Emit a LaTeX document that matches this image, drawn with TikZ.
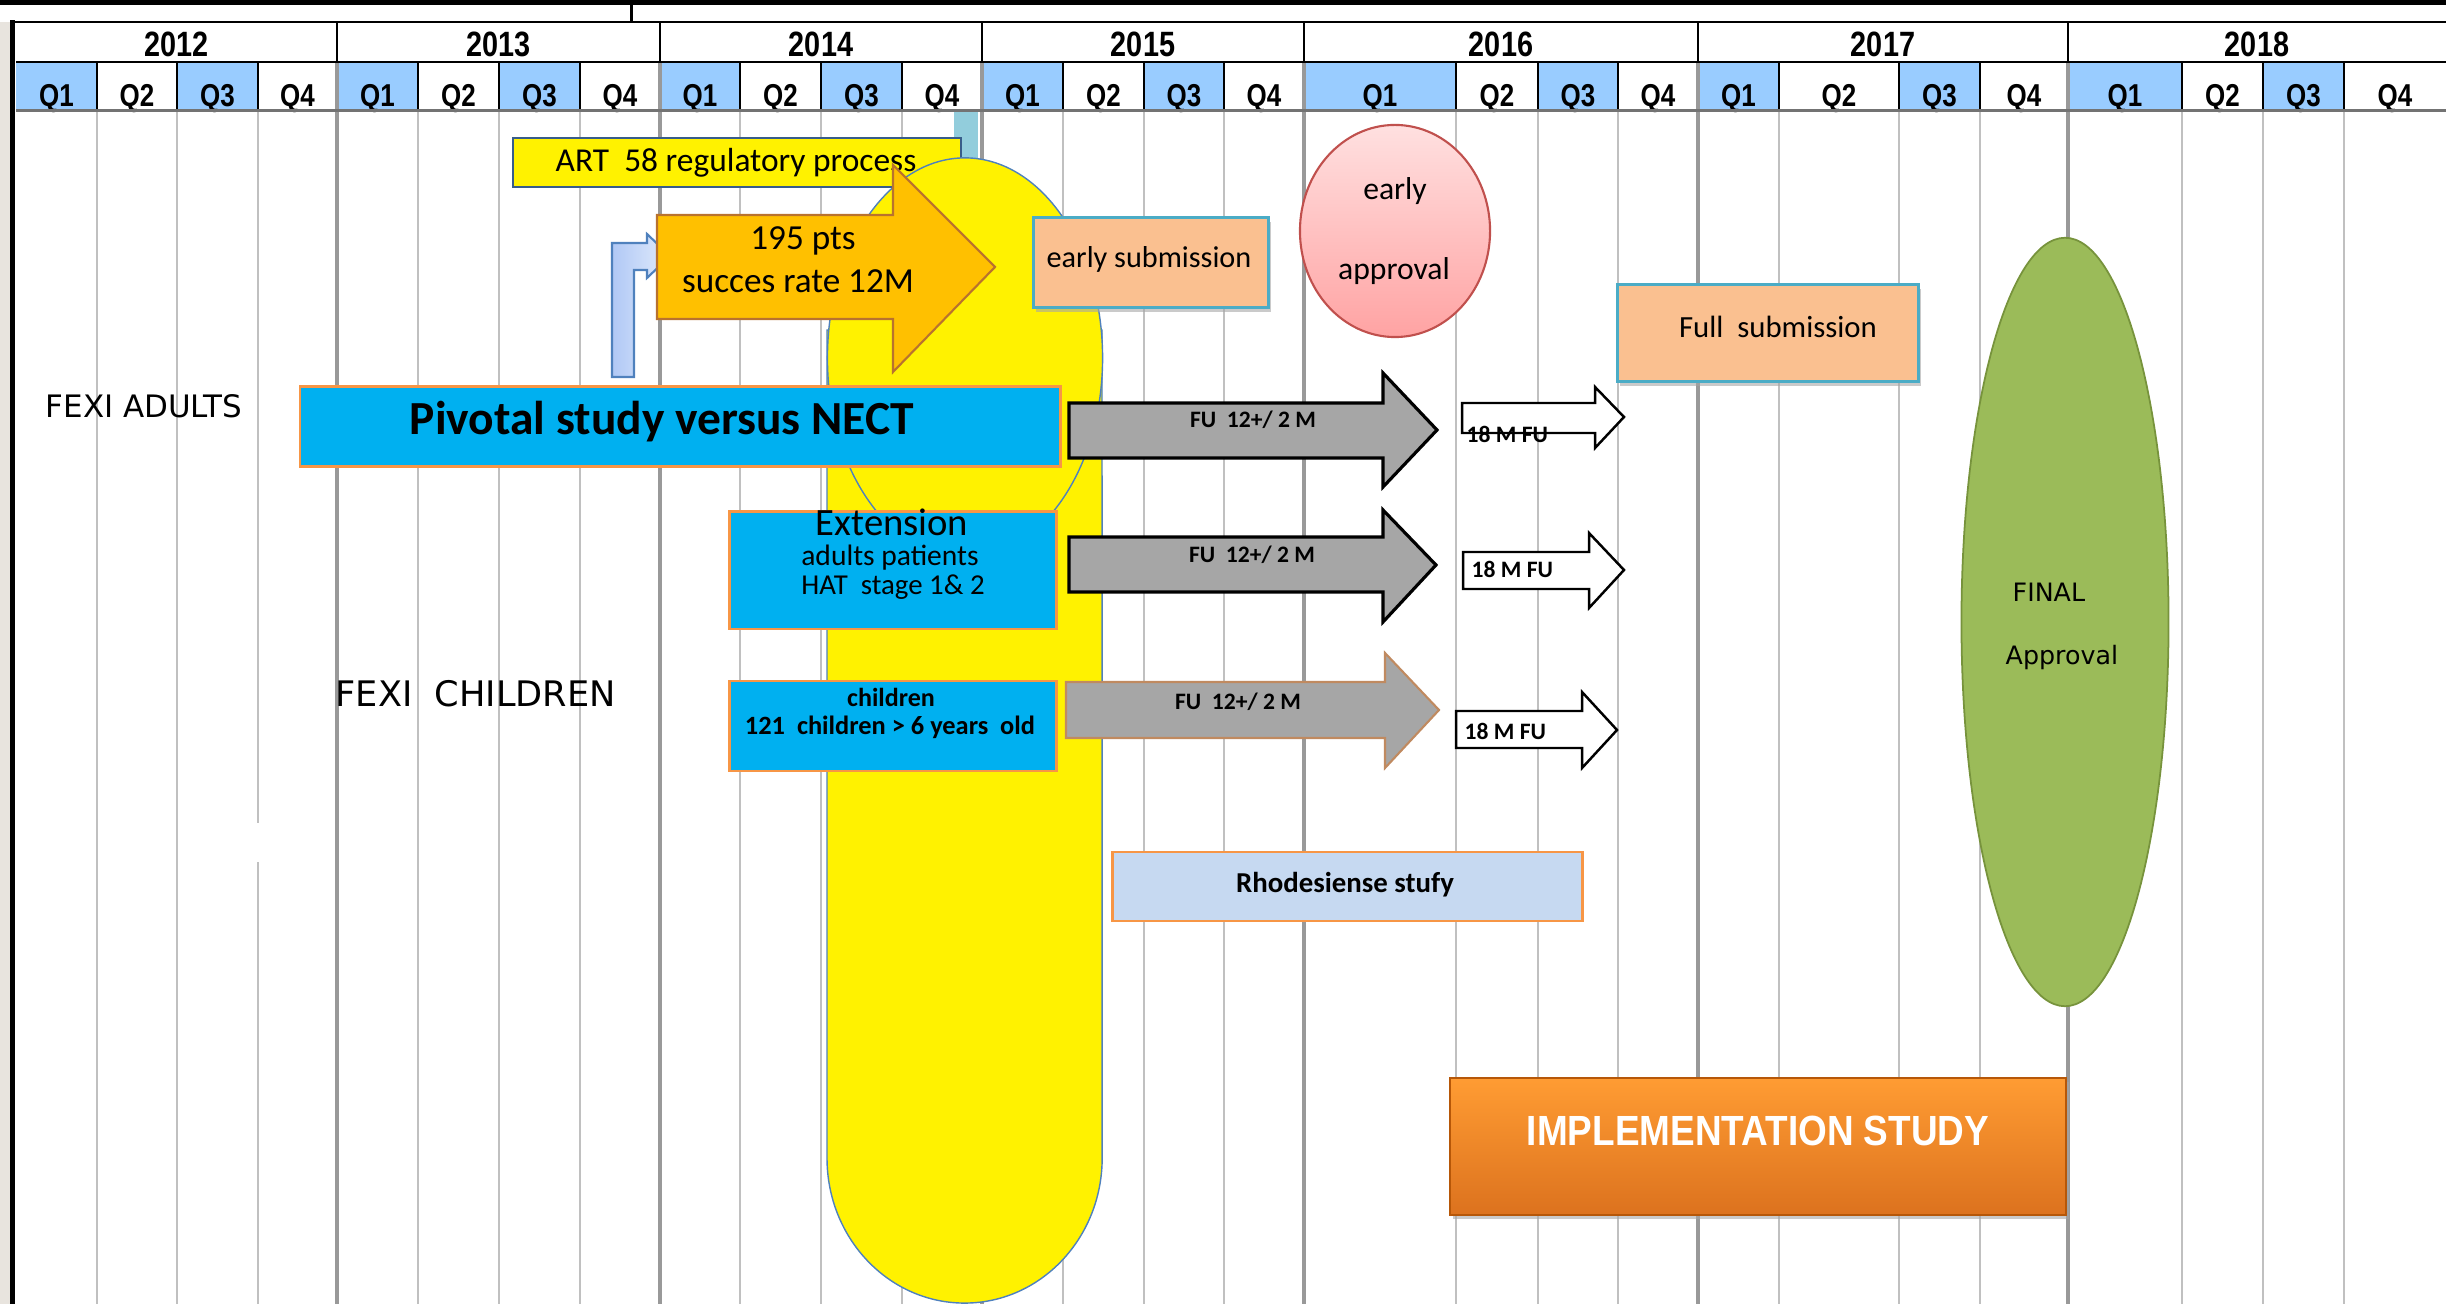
\documentclass[tikz,border=0pt]{standalone}
\usepackage{fontspec}
\setmainfont{Carlito}
\newfontfamily\hdrfont[FakeStretch=0.82]{Liberation Sans}
\newfontfamily\implfont[FakeStretch=0.875]{Liberation Sans}
\newfontfamily\tahfont{DejaVu Sans}
\usepackage{tikz}
\usetikzlibrary{positioning,fit,shapes.geometric,shadows}
\definecolor{QBlue}{HTML}{99CCFF}
\definecolor{CellGray}{HTML}{999999}
\definecolor{GridGray}{HTML}{C0C0C0}
\definecolor{Beige}{HTML}{E8E4DE}
\definecolor{StudyBlue}{HTML}{00B0F0}
\definecolor{StudyEdge}{HTML}{F79646}
\definecolor{OvalEdge}{HTML}{4F81BD}
\definecolor{ArtEdge}{HTML}{385D8A}
\definecolor{BarTeal}{HTML}{92CDDC}
\definecolor{Amber}{HTML}{FFC000}
\definecolor{AmberEdge}{HTML}{B9722E}
\definecolor{FuGray}{HTML}{A6A6A6}
\definecolor{FuEdge}{HTML}{C08A60}
\definecolor{Peach}{HTML}{FAC090}
\definecolor{PeachEdge}{HTML}{4BACC6}
\definecolor{PinkTop}{HTML}{FFE0E0}
\definecolor{PinkBot}{HTML}{FFA3A3}
\definecolor{PinkEdge}{HTML}{C0504D}
\definecolor{Olive}{HTML}{9BBB59}
\definecolor{OliveEdge}{HTML}{77933C}
\definecolor{PaleBlue}{HTML}{C6D9F1}
\definecolor{ElbowL}{HTML}{B0C8F5}
\definecolor{ElbowR}{HTML}{E2ECFC}
\definecolor{ImplTop}{HTML}{FF9C33}
\definecolor{ImplBot}{HTML}{DC721E}
\definecolor{ImplEdge}{HTML}{B65708}
\newcommand{\fatarrow}[9]{\draw[#1] (#2,#3) -- (#5,#3) -- (#5,#6) -- (#8,#9) -- (#5,#7) -- (#5,#4) -- (#2,#4) -- cycle;}

\begin{document}
\begin{tikzpicture}[x=0.01cm,y=-0.01cm,
lbl/.style={inner sep=0pt,anchor=base},
qlab/.style={lbl,font=\hdrfont\bfseries\fontsize{9}{10}\selectfont},
yrlab/.style={lbl,font=\hdrfont\bfseries\fontsize{10}{11}\selectfont},
gridq/.style={GridGray,line width=0.55pt},
gridy/.style={CellGray,line width=1.1pt},
dshadow/.style={drop shadow={shadow xshift=0.8pt,shadow yshift=-1.2pt,fill=black!35,opacity=.6}},
study/.style={fill=StudyBlue,draw=StudyEdge,line width=0.85pt,inner sep=0pt},
peach/.style={fill=Peach,draw=PeachEdge,line width=0.85pt,inner sep=0pt,dshadow},
yel/.style={fill=yellow,draw=OvalEdge,line width=0.4pt},
amber/.style={fill=Amber,draw=AmberEdge,line width=0.6pt},
fugray/.style={fill=FuGray,draw=black,line width=0.9pt},
fuwhite/.style={fill=white,draw=black,line width=0.7pt},
futxt/.style={lbl,font=\bfseries\fontsize{6.7}{8}\selectfont}]
\useasboundingbox (0,0) rectangle (2446,1304);
\fill[Beige] (0,22) rectangle (10,1304);
\foreach \xa/\xb/\q/\c in {16/97/Q1/QBlue,97/177/Q2/white,177/258/Q3/QBlue,258/337/Q4/white,
337/418/Q1/QBlue,418/499/Q2/white,499/580/Q3/QBlue,580/660/Q4/white,
660/740/Q1/QBlue,740/821/Q2/white,821/902/Q3/QBlue,902/982/Q4/white,
982/1063/Q1/QBlue,1063/1144/Q2/white,1144/1224/Q3/QBlue,1224/1304/Q4/white,
1304/1456/Q1/QBlue,1456/1538/Q2/white,1538/1618/Q3/QBlue,1618/1698/Q4/white,
1698/1779/Q1/QBlue,1779/1899/Q2/white,1899/1980/Q3/QBlue,1980/2068/Q4/white,
2068/2182/Q1/QBlue,2182/2263/Q2/white,2263/2344/Q3/QBlue,2344/2446/Q4/white}{
  \fill[\c] (\xa,62) rectangle (\xb,110);
  \node[qlab] (q\xa) at ({(\xa+\xb)/2},107) {\q};
}
\foreach \xa/\xb/\yr in {16/337/2012,337/660/2013,660/982/2014,982/1304/2015,1304/1698/2016,1698/2068/2017,2068/2446/2018}
  \node[yrlab] (y\yr) at ({(\xa+\xb)/2},57) {\yr};
\foreach \x in {97,177,258,418,499,580,740,821,902,1063,1144,1224,1456,1538,1618,1779,1899,1980,2182,2263,2344}{
  \draw[line width=0.45pt] (\x,62) -- (\x,110);
  \draw[gridq] (\x,112) -- (\x,1304);
}
\fill[white] (250,823) rectangle (266,862);
\foreach \x in {337,660,982,1304,1698,2068}{
  \draw[line width=0.6pt] (\x,22) -- (\x,62);
  \draw[gridy] (\x,62) -- (\x,1304);
}
\fill (0,0) rectangle (2446,5);
\draw[line width=0.85pt] (631,5) -- (631,22);
\draw[line width=0.7pt] (10,22) -- (2446,22);
\draw[line width=0.6pt] (16,62) -- (2446,62);
\draw[black!55,line width=0.85pt] (16,111) -- (2446,111);
\fill (10,20) rectangle (15,1304);

\fill[BarTeal] (954,112) rectangle (978,175);
\node[fill=yellow,draw=ArtEdge,line width=0.7pt,inner sep=0pt,fit={(513,138) (961,187)}] (art) {};
\node[lbl,font=\fontsize{9.5}{11}\selectfont] (arttxt) at (736,172) {ART~ 58 regulatory process};

\filldraw[yel] (827,330) -- (827,1158) arc[start angle=180,end angle=360,x radius=1.375cm,y radius=1.45cm] -- (1102,330) -- cycle;
\filldraw[yel] (965,358) ellipse [x radius=1.375cm,y radius=2cm];

\draw[draw=OvalEdge,line width=0.6pt,left color=ElbowL,right color=ElbowR] (612,377) -- (612,243) -- (647,243) -- (647,234) -- (670,256) -- (647,278) -- (647,270) -- (634,270) -- (634,377) -- cycle;
\fatarrow{amber}{657}{215}{319}{893}{165}{372}{995}{267}
\node[lbl,font=\fontsize{10}{12}\selectfont] (pts) at (803,250) {195 pts};
\node[lbl,font=\fontsize{10}{12}\selectfont] (rate) at (798,293) {succes rate 12M};

\node[study,fit={(300,387) (1060,467)}] (pivot) {};
\node[lbl,font=\bfseries\fontsize{13.5}{16}\selectfont] (pivtxt) at (662,435) {Pivotal study versus NECT};
\node[study,fit={(729,512) (1056,629)}] (ext) {};
\node[lbl,font=\fontsize{11}{13}\selectfont] (exttxt) at (892,536) {Extension};
\node[lbl,font=\fontsize{8.4}{10}\selectfont] (extadu) at (890,566) {adults patients};
\node[lbl,font=\fontsize{8.2}{10}\selectfont] (exthat) at (893,595) {HAT~ stage 1\& 2};
\node[study,fit={(729,681) (1056,771)}] (kids) {};
\node[lbl,font=\bfseries\fontsize{7.4}{9}\selectfont] (kidstxt) at (891,707) {children};
\node[lbl,font=\bfseries\fontsize{7.5}{9}\selectfont] (kidsage) at (890,735) {121~ children > 6 years~ old};

\fatarrow{fugray}{1069}{403}{458}{1383}{373}{487}{1437}{430}
\fatarrow{fugray}{1069}{537}{592}{1383}{510}{622}{1436}{565}
\fatarrow{fugray,draw=FuEdge,line width=0.6pt}{1066}{682}{738}{1385}{653}{768}{1439}{710}
\node[futxt] (fu1) at (1253,428) {FU~ 12+/ 2 M};
\node[futxt] (fu2) at (1252,563) {FU~ 12+/ 2 M};
\node[futxt] (fu3) at (1238,710) {FU~ 12+/ 2 M};
\fatarrow{fuwhite}{1462}{403}{433}{1595}{387}{448}{1624}{417}
\fatarrow{fuwhite}{1463}{552}{589}{1589}{533}{608}{1624}{570}
\fatarrow{fuwhite}{1456}{711}{748}{1582}{692}{768}{1617}{730}
\node[futxt,anchor=base west] (fw1) at (1466,443) {18 M FU};
\node[futxt,anchor=base west] (fw2) at (1471,578) {18 M FU};
\node[futxt,anchor=base west] (fw3) at (1464,740) {18 M FU};

\node[peach,fit={(1033,218) (1268,308)}] (esub) {};
\node[lbl,font=\fontsize{8.6}{10}\selectfont] (esubtxt) at (1149,268) {early submission};
\node[ellipse,draw=PinkEdge,top color=PinkTop,bottom color=PinkBot,line width=0.6pt,inner sep=0pt,minimum width=1.9cm,minimum height=2.12cm] (eappr) at (1395,231) {};
\node[lbl,font=\fontsize{9}{11}\selectfont] (early) at (1395,200) {early};
\node[lbl,font=\fontsize{9}{11}\selectfont] (appr) at (1394,280) {approval};
\node[peach,fit={(1617,285) (1918,382)}] (fsub) {};
\node[lbl,font=\fontsize{8.75}{10}\selectfont] (fsubtxt) at (1778,338) {Full~ submission};
\node[ellipse,fill=Olive,draw=OliveEdge,line width=0.5pt,inner sep=0pt,minimum width=2.07cm,minimum height=7.68cm] (final) at (2065,622) {};
\node[lbl,anchor=base west,font=\tahfont\fontsize{7.2}{9}\selectfont] (finaltxt) at (2012,602) {FINAL};
\node[lbl,anchor=base west,font=\tahfont\fontsize{7.2}{9}\selectfont] (finalappr) at (2005,665) {Approval};
\node[fill=PaleBlue,draw=StudyEdge,line width=0.85pt,inner sep=0pt,fit={(1112,852) (1582,921)}] (rhod) {};
\node[lbl,font=\bfseries\fontsize{8.2}{10}\selectfont] (rhodtxt) at (1345,892) {Rhodesiense stufy};
\node[top color=ImplTop,bottom color=ImplBot,draw=ImplEdge,line width=0.5pt,inner sep=0pt,dshadow,fit={(1450,1078) (2066,1215)}] (impl) {};
\node[lbl,text=white,font=\implfont\bfseries\fontsize{12}{14}\selectfont] (impltxt) at (1758,1145) {IMPLEMENTATION STUDY};

\node[lbl,anchor=base west,font=\tahfont\fontsize{8.8}{10}\selectfont] (adults) at (45,418) {FEXI ADULTS};
\node[lbl,anchor=base west,font=\tahfont\fontsize{10}{12}\selectfont] (children) at (335,707) {FEXI~ CHILDREN};
\end{tikzpicture}
\end{document}
